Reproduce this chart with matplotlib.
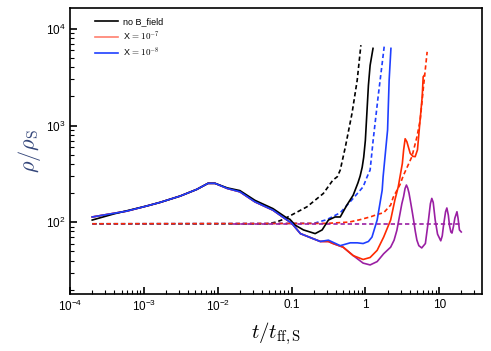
import numpy as np
import matplotlib
matplotlib.use('Agg')
import matplotlib.pyplot as plt
from matplotlib.ticker import FixedLocator, NullFormatter, LogLocator

plt.rcParams['font.family'] = ['Liberation Sans', 'DejaVu Sans']
plt.rcParams['mathtext.fontset'] = 'cm'

# ---- data ----
# no B field, solid / dashed
t_black = [2e-4, 4e-4, 1.1e-3, 1.66e-3, 3.1e-3, 5.2e-3, 7.4e-3, 9.2e-3, 0.0135, 0.02, 0.032,
           0.056, 0.087, 0.095, 0.112, 0.145, 0.209, 0.26, 0.316, 0.389, 0.457, 0.562, 0.684,
           0.794, 0.85, 0.906, 0.95, 1.0, 1.057, 1.1, 1.16, 1.27]
rho_black = [105, 122, 147, 160, 186, 218, 252, 252, 226, 212, 168,
             138, 110, 107, 93, 83, 76, 83, 105, 113, 113, 150, 190,
             255, 300, 370, 470, 700, 1500, 2600, 4200, 6300]
t_black_d = [2e-4, 0.047, 0.062, 0.078, 0.162, 0.27, 0.363, 0.417, 0.457, 0.537, 0.66, 0.776, 0.87]
rho_black_d = [96, 96, 100, 107, 144, 198, 272, 295, 346, 604, 1340, 2960, 6800]

# X = 1e-8, solid / dashed
t_blue = [2e-4, 5.9e-4, 1.1e-3, 1.66e-3, 3.1e-3, 5.2e-3, 7.4e-3, 9.2e-3, 0.0135, 0.02, 0.032,
          0.056, 0.087, 0.1, 0.132, 0.19, 0.245, 0.316, 0.457, 0.624, 0.776, 0.933, 1.1, 1.23,
          1.445, 1.69, 1.74, 2.0, 2.1, 2.22]
rho_blue = [113, 130, 147, 160, 186, 218, 252, 252, 223, 206, 162,
            133, 105, 98, 76, 68, 63, 65, 57, 61, 61, 60, 63, 70,
            105, 214, 295, 900, 2960, 6300]
t_blue_d = [2e-4, 0.2, 0.30, 0.457, 0.684, 0.933, 1.057, 1.16, 1.276, 1.49, 1.69, 1.80]
rho_blue_d = [96, 97, 106, 125, 176, 232, 295, 346, 708, 2000, 4400, 6600]

# X = 1e-7, solid / dashed
t_red = [2e-4, 5.9e-4, 1.1e-3, 1.66e-3, 3.1e-3, 5.2e-3, 7.4e-3, 9.2e-3, 0.0135, 0.02, 0.032,
         0.056, 0.087, 0.1, 0.132, 0.19, 0.245, 0.316, 0.365, 0.5, 0.684, 0.933, 1.16,
         1.445, 1.77, 2.2, 2.51, 2.79, 3.17, 3.3, 3.46, 3.65, 4.05, 4.4, 4.73, 5.08, 5.41,
         5.89, 6.07, 6.26]
rho_red = [113, 130, 147, 160, 186, 218, 252, 252, 223, 206, 162,
           133, 105, 98, 76, 68, 63, 63, 60, 55, 45, 41, 43,
           51, 70, 105, 169, 232, 405, 560, 730, 680, 515, 480, 476, 560, 970,
           2000, 3200, 3300]
t_red_d = [2e-4, 0.3, 0.6, 0.85, 1.2, 1.445, 1.77, 2.2, 2.38, 2.95, 3.25, 4.27, 4.99, 5.53, 6.07, 6.87]
rho_red_d = [96, 97, 100, 106, 114, 120, 125, 150, 180, 245, 300, 476, 760, 1140, 2350, 5800]

# purple (no legend entry), solid / dashed
t_purple = [2e-4, 5.9e-4, 1.1e-3, 1.66e-3, 3.1e-3, 5.2e-3, 7.4e-3, 9.2e-3, 0.0135, 0.02, 0.032,
            0.056, 0.087, 0.1, 0.132, 0.19, 0.245, 0.316, 0.365, 0.5, 0.684, 0.933, 1.16,
            1.445, 1.77, 2.2, 2.45, 2.67, 2.95, 3.12, 3.29, 3.45, 3.6, 3.75, 3.9, 4.05, 4.3,
            4.5, 4.75, 4.99, 5.3, 5.8, 6.5, 6.8, 7.16, 7.6, 7.94, 8.3, 8.83, 9.5, 10.5, 11.0,
            11.4, 12.2, 12.7, 13.3, 13.8, 14.4, 14.9, 15.6, 16.3, 17.4, 18.0, 18.8, 19.9]
rho_purple = [113, 130, 147, 160, 186, 218, 252, 252, 223, 206, 162,
              133, 105, 98, 76, 68, 63, 63, 60, 55, 45, 37.6, 36,
              39, 47, 55, 65, 82, 123, 155, 183, 223, 242, 225, 200, 170, 130,
              105, 80, 65, 57, 54, 60, 78, 105, 155, 176, 160, 105, 75, 64, 72,
              90, 128, 140, 118, 92, 79, 77, 90, 110, 128, 110, 83, 79]
t_purple_d = [0.016, 20.0]
rho_purple_d = [96, 96]

c_black = 'black'
c_red = '#ff2a00'
c_blue = '#1f3fff'
c_purple = '#9a1fa3'
dash = (0, (2.6, 1.7))
lw = 1.2

fig = plt.figure(figsize=(4.91, 3.51), dpi=100)
ax = fig.add_axes([70/491, 1 - 294/351, 412/491, 286/351])

ax.plot(t_black_d, rho_black_d, color=c_black, lw=lw, ls=dash)
ax.plot(t_blue_d, rho_blue_d, color=c_blue, lw=lw, ls=dash)
ax.plot(t_red_d, rho_red_d, color=c_red, lw=lw, ls=dash)
ax.plot(t_purple_d, rho_purple_d, color=c_purple, lw=lw, ls=dash)

ax.plot(t_purple, rho_purple, color=c_purple, lw=lw)
ax.plot(t_red, rho_red, color=c_red, lw=lw, label=r'X$\,=10^{-7}$')
ax.plot(t_black, rho_black, color=c_black, lw=lw, label='no B_field')
ax.plot(t_blue, rho_blue, color=c_blue, lw=lw, label=r'X$\,=10^{-8}$')

ax.set_xscale('log')
ax.set_yscale('log')
ax.set_xlim(1e-4, 38)
ax.set_ylim(18, 1.65e4)

xt = [1e-4, 1e-3, 1e-2, 0.1, 1, 10]
xt_labels = [r'$\mathdefault{10^{-4}}$', r'$\mathdefault{10^{-3}}$', r'$\mathdefault{10^{-2}}$',
             '0.1', '1', '10']
ax.xaxis.set_major_locator(FixedLocator(xt))
ax.set_xticklabels(xt_labels)
ax.xaxis.set_minor_locator(LogLocator(base=10, subs=np.arange(2, 10), numticks=20))
ax.xaxis.set_minor_formatter(NullFormatter())

yt = [1e2, 1e3, 1e4]
ax.yaxis.set_major_locator(FixedLocator(yt))
ax.set_yticklabels([r'$\mathdefault{10^{2}}$', r'$\mathdefault{10^{3}}$', r'$\mathdefault{10^{4}}$'])
ax.yaxis.set_minor_locator(LogLocator(base=10, subs=np.arange(2, 10), numticks=20))
ax.yaxis.set_minor_formatter(NullFormatter())

ax.tick_params(which='both', direction='in', top=False, right=False, labelsize=8.5)
ax.tick_params(which='major', length=5, width=1.2)
ax.tick_params(which='minor', length=3, width=0.8)
for s in ax.spines.values():
    s.set_linewidth(1.2)

ax.set_xlabel(r'$t/t_{\rm ff,S}$', fontsize=15, labelpad=4)
ax.set_ylabel(r'$\rho/\rho_{\rm S}$', fontsize=16, color='#34467a', labelpad=2)

h, l = ax.get_legend_handles_labels()
order = [1, 0, 2]
leg = ax.legend([h[i] for i in order], [l[i] for i in order], loc='upper left',
                bbox_to_anchor=(0.04, 0.995), frameon=False, fontsize=6.5,
                handlelength=2.6, handletextpad=0.6, labelspacing=0.35)
leg.get_lines()[1].set_color('#ff7f6e')

fig.savefig('out.png', dpi=100)
